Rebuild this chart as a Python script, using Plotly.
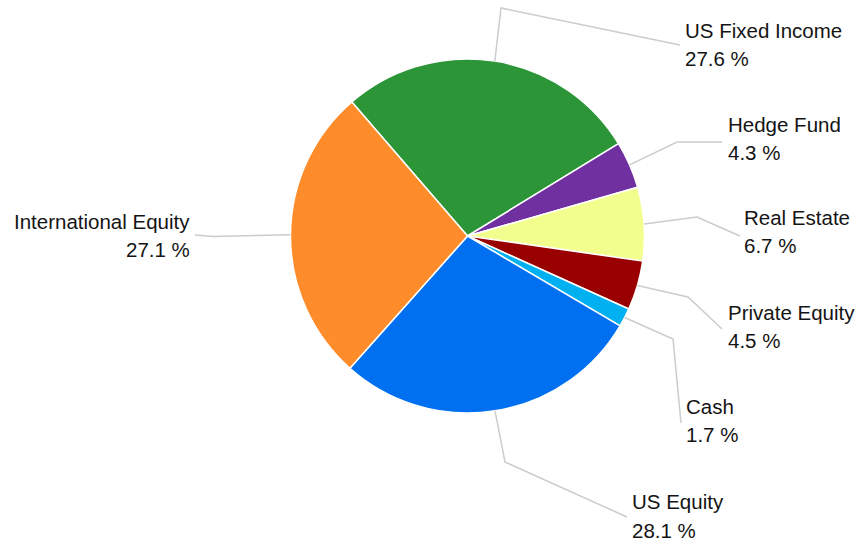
import math
import plotly.graph_objects as go

# Asset allocation shares (percent), listed clockwise from the top
labels = ["US Fixed Income", "Hedge Fund", "Real Estate", "Private Equity",
          "Cash", "US Equity", "International Equity"]
shares = [27.6, 4.3, 6.7, 4.5, 1.7, 28.1, 27.1]
colors = ["#2B9538", "#7030A0", "#F2FF8F", "#990000",
          "#00B0F0", "#0070F0", "#FF8C2A"]

W, H = 857, 546
CX, CY, R = 467.5, 236.0, 177.0
ROTATION = -40.8
FONT = dict(family="Liberation Sans, Arial, sans-serif", size=20.5,
            color="#141414")


def px(x):
    return x / W


def py(y):
    return 1 - y / H


# Leader-line bends (pixels), one list per slice
bends = [[(501, 8), (680, 45)],
         [(677, 142), (722, 142)],
         [(697, 217), (740, 236)],
         [(688, 297), (722, 329)],
         [(673, 339), (681, 423)],
         [(505, 462), (627, 517)],
         [(213, 236.5), (195, 235)]]
# Label anchors: x, name-line y, value-line y, side
label_pos = [(683, 30, 58.5, "left"),
             (726, 124.5, 152.5, "left"),
             (742, 217.5, 246, "left"),
             (726, 312, 340.5, "left"),
             (684, 406.5, 435, "left"),
             (630, 501.5, 530, "left"),
             (192, 221, 250, "right")]

fig = go.Figure(go.Pie(
    labels=labels,
    values=shares,
    sort=False,
    direction="clockwise",
    rotation=ROTATION,
    marker=dict(colors=colors, line=dict(color="white", width=1.5)),
    textinfo="none",
    hoverinfo="label+percent",
    domain=dict(x=[px(CX - R), px(CX + R)], y=[py(CY + R), py(CY - R)]),
    showlegend=False,
))

shapes = []
annotations = []
total = sum(shares)
cum = 0.0
for i, (lab, v) in enumerate(zip(labels, shares)):
    mid = ROTATION + 360 * (cum + v / 2) / total
    cum += v
    a = math.radians(mid)
    sx, sy = CX + R * math.sin(a), CY - R * math.cos(a)
    pts = [(sx, sy)] + bends[i]
    path = "M " + " L ".join(f"{px(x)},{py(y)}" for x, y in pts)
    shapes.append(dict(type="path", xref="paper", yref="paper", path=path,
                       line=dict(color="#CCCCCC", width=1.5)))
    lx, ly1, ly2, side = label_pos[i]
    for ly, txt in ((ly1, lab), (ly2, f"{v} %")):
        annotations.append(dict(
            x=px(lx), y=py(ly), xref="paper", yref="paper",
            xanchor=side, yanchor="middle", align=side, showarrow=False,
            text=txt, font=FONT,
        ))

fig.update_layout(
    width=W, height=H,
    margin=dict(l=0, r=0, t=0, b=0),
    paper_bgcolor="white",
    plot_bgcolor="white",
    shapes=shapes,
    annotations=annotations,
)

fig.write_html("out.html")
